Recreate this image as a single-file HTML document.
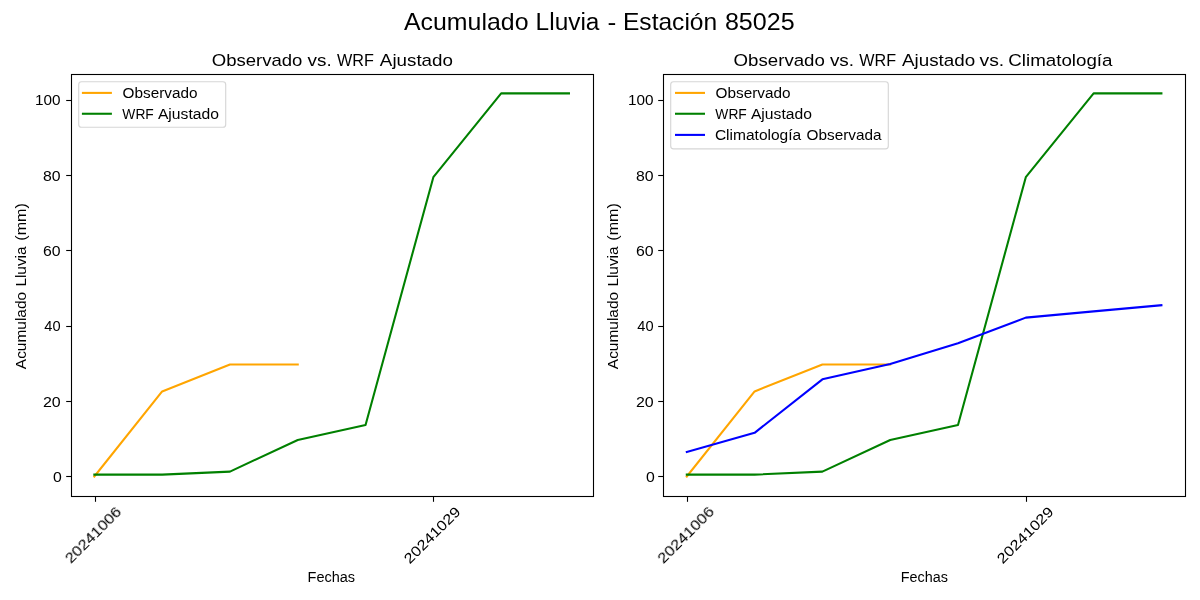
<!DOCTYPE html>
<html lang="es"><head><meta charset="utf-8"><title>Acumulado Lluvia - Estación 85025</title>
<style>html,body{margin:0;padding:0;background:#fff;}body{width:1200px;height:600px;overflow:hidden;}svg{display:block;}text{font-family:"Liberation Sans",sans-serif;fill:#000;}</style></head><body>
<svg width="1200" height="600" viewBox="0 0 1200 600">
<rect x="0" y="0" width="1200" height="600" fill="#fff"/>
<g>
<g fill="none" stroke-width="2.08" stroke-linejoin="round" stroke-linecap="square">
<polyline points="94.35,476.50 162.15,391.41 229.95,364.49 297.75,364.49" stroke="#ffa500"/>
<polyline points="94.35,474.62 162.15,474.62 229.95,471.61 297.75,439.98 365.55,424.92 433.35,177.18 501.15,93.41 568.95,93.41" stroke="#008000"/>
</g>
<g stroke="#000" stroke-width="1.1" fill="none">
<line x1="95.5" y1="496.5" x2="95.5" y2="501.8"/>
<line x1="433.5" y1="496.5" x2="433.5" y2="501.8"/>
<line x1="66.2" y1="476.5" x2="71.5" y2="476.5"/>
<line x1="66.2" y1="401.5" x2="71.5" y2="401.5"/>
<line x1="66.2" y1="326.5" x2="71.5" y2="326.5"/>
<line x1="66.2" y1="250.5" x2="71.5" y2="250.5"/>
<line x1="66.2" y1="175.5" x2="71.5" y2="175.5"/>
<line x1="66.2" y1="100.5" x2="71.5" y2="100.5"/>
</g>
<rect x="71.5" y="74.5" width="522" height="422" fill="none" stroke="#000" stroke-width="1.1"/>
<rect x="78.7" y="81.7" width="147" height="45.6" rx="2.8" ry="2.8" fill="#fff" fill-opacity="0.8" stroke="#d6d6d6" stroke-width="1.15"/>
<line x1="81.9" y1="92.9" x2="111.9" y2="92.9" stroke="#ffa500" stroke-width="2.08" stroke-linecap="butt"/>
<line x1="81.9" y1="113.75" x2="111.9" y2="113.75" stroke="#008000" stroke-width="2.08" stroke-linecap="butt"/>
</g>
<g>
<g fill="none" stroke-width="2.08" stroke-linejoin="round" stroke-linecap="square">
<polyline points="686.80,476.50 754.60,391.41 822.40,364.49 890.20,364.49" stroke="#ffa500"/>
<polyline points="686.80,474.62 754.60,474.62 822.40,471.61 890.20,439.98 958.00,424.92 1025.80,177.18 1093.60,93.41 1161.40,93.41" stroke="#008000"/>
<polyline points="686.80,452.03 754.60,432.83 822.40,379.36 890.20,363.93 958.00,343.22 1025.80,317.62 1093.60,311.40 1161.40,305.19" stroke="#0000ff"/>
</g>
<g stroke="#000" stroke-width="1.1" fill="none">
<line x1="687.5" y1="496.5" x2="687.5" y2="501.8"/>
<line x1="1026.5" y1="496.5" x2="1026.5" y2="501.8"/>
<line x1="658.2" y1="476.5" x2="663.5" y2="476.5"/>
<line x1="658.2" y1="401.5" x2="663.5" y2="401.5"/>
<line x1="658.2" y1="326.5" x2="663.5" y2="326.5"/>
<line x1="658.2" y1="250.5" x2="663.5" y2="250.5"/>
<line x1="658.2" y1="175.5" x2="663.5" y2="175.5"/>
<line x1="658.2" y1="100.5" x2="663.5" y2="100.5"/>
</g>
<rect x="663.5" y="74.5" width="522" height="422" fill="none" stroke="#000" stroke-width="1.1"/>
<rect x="670.7" y="81.7" width="217.6" height="67.2" rx="2.8" ry="2.8" fill="#fff" fill-opacity="0.8" stroke="#d6d6d6" stroke-width="1.15"/>
<line x1="675" y1="92.9" x2="705" y2="92.9" stroke="#ffa500" stroke-width="2.08" stroke-linecap="butt"/>
<line x1="675" y1="113.75" x2="705" y2="113.75" stroke="#008000" stroke-width="2.08" stroke-linecap="butt"/>
<line x1="675" y1="134.9" x2="705" y2="134.9" stroke="#0000ff" stroke-width="2.08" stroke-linecap="butt"/>
</g>
<g style="filter:grayscale(1)">
<text transform="translate(403.94,29.90) rotate(0) scale(1.0640,1)" font-size="23.40">Acumulado</text>
<text transform="translate(535.62,29.90) rotate(0) scale(1.0447,1)" font-size="23.40">Lluvia</text>
<text transform="translate(607.59,29.90) rotate(0) scale(1.1293,1)" font-size="23.40">-</text>
<text transform="translate(623.00,29.90) rotate(0) scale(1.0498,1)" font-size="23.40">Estación</text>
<text transform="translate(724.90,29.90) rotate(0) scale(1.0727,1)" font-size="23.40">85025</text>
<text transform="translate(211.73,66.40) rotate(0) scale(1.0910,1)" font-size="17.00">Observado</text>
<text transform="translate(307.57,66.40) rotate(0) scale(1.1112,1)" font-size="17.00">vs.</text>
<text transform="translate(337.09,66.40) rotate(0) scale(0.9531,1)" font-size="17.00">WRF</text>
<text transform="translate(379.87,66.40) rotate(0) scale(1.1046,1)" font-size="17.00">Ajustado</text>
<text transform="translate(733.59,66.40) rotate(0) scale(1.0979,1)" font-size="17.00">Observado</text>
<text transform="translate(829.90,66.40) rotate(0) scale(1.1138,1)" font-size="17.00">vs.</text>
<text transform="translate(859.28,66.40) rotate(0) scale(0.9519,1)" font-size="17.00">WRF</text>
<text transform="translate(901.97,66.40) rotate(0) scale(1.1089,1)" font-size="17.00">Ajustado</text>
<text transform="translate(979.50,66.40) rotate(0) scale(1.1372,1)" font-size="17.00">vs.</text>
<text transform="translate(1008.27,66.40) rotate(0) scale(1.1034,1)" font-size="17.00">Climatología</text>
<text transform="translate(307.53,581.90) rotate(0) scale(0.9943,1)" font-size="14.60">Fechas</text>
<text transform="translate(25.90,369.14) rotate(-90) scale(1.0583,1)" font-size="14.60">Acumulado</text>
<text transform="translate(25.90,286.59) rotate(-90) scale(1.0530,1)" font-size="14.60">Lluvia</text>
<text transform="translate(25.90,240.69) rotate(-90) scale(1.1059,1)" font-size="14.60">(mm)</text>
<text transform="translate(93.12,534.86) rotate(-45) scale(1.1434,1)" font-size="14.30" text-anchor="middle" y="4.92">20241006</text>
<text transform="translate(432.12,535.11) rotate(-45) scale(1.1483,1)" font-size="14.30" text-anchor="middle" y="4.92">20241029</text>
<text transform="translate(35.04,105.00) rotate(0) scale(1.0709,1)" font-size="14.30">100</text>
<text transform="translate(43.07,181.00) rotate(0) scale(1.1060,1)" font-size="14.30">80</text>
<text transform="translate(43.02,256.00) rotate(0) scale(1.1088,1)" font-size="14.30">60</text>
<text transform="translate(44.30,331.00) rotate(0) scale(1.0230,1)" font-size="14.30">40</text>
<text transform="translate(42.96,407.00) rotate(0) scale(1.1178,1)" font-size="14.30">20</text>
<text transform="translate(52.96,482.00) rotate(0) scale(1.1063,1)" font-size="14.30">0</text>
<text transform="translate(122.58,98.00) rotate(0) scale(1.0510,1)" font-size="14.60">Observado</text>
<text transform="translate(122.37,118.90) rotate(0) scale(0.9463,1)" font-size="14.60">WRF</text>
<text transform="translate(157.89,118.90) rotate(0) scale(1.0751,1)" font-size="14.60">Ajustado</text>
<text transform="translate(900.73,581.90) rotate(0) scale(0.9862,1)" font-size="14.60">Fechas</text>
<text transform="translate(617.90,369.14) rotate(-90) scale(1.0583,1)" font-size="14.60">Acumulado</text>
<text transform="translate(617.90,286.59) rotate(-90) scale(1.0530,1)" font-size="14.60">Lluvia</text>
<text transform="translate(617.90,240.69) rotate(-90) scale(1.1059,1)" font-size="14.60">(mm)</text>
<text transform="translate(685.73,534.84) rotate(-45) scale(1.1494,1)" font-size="14.30" text-anchor="middle" y="4.92">20241006</text>
<text transform="translate(1025.17,535.11) rotate(-45) scale(1.1522,1)" font-size="14.30" text-anchor="middle" y="4.92">20241029</text>
<text transform="translate(628.04,105.00) rotate(0) scale(1.0709,1)" font-size="14.30">100</text>
<text transform="translate(636.07,181.00) rotate(0) scale(1.1060,1)" font-size="14.30">80</text>
<text transform="translate(636.02,256.00) rotate(0) scale(1.1088,1)" font-size="14.30">60</text>
<text transform="translate(637.30,331.00) rotate(0) scale(1.0230,1)" font-size="14.30">40</text>
<text transform="translate(635.96,407.00) rotate(0) scale(1.1178,1)" font-size="14.30">20</text>
<text transform="translate(645.96,482.00) rotate(0) scale(1.1063,1)" font-size="14.30">0</text>
<text transform="translate(715.58,98.00) rotate(0) scale(1.0510,1)" font-size="14.60">Observado</text>
<text transform="translate(715.37,118.90) rotate(0) scale(0.9463,1)" font-size="14.60">WRF</text>
<text transform="translate(750.89,118.90) rotate(0) scale(1.0751,1)" font-size="14.60">Ajustado</text>
<text transform="translate(714.89,139.80) rotate(0) scale(1.0647,1)" font-size="14.60">Climatología</text>
<text transform="translate(806.57,139.80) rotate(0) scale(1.0499,1)" font-size="14.60">Observada</text>
</g>
</svg></body></html>
